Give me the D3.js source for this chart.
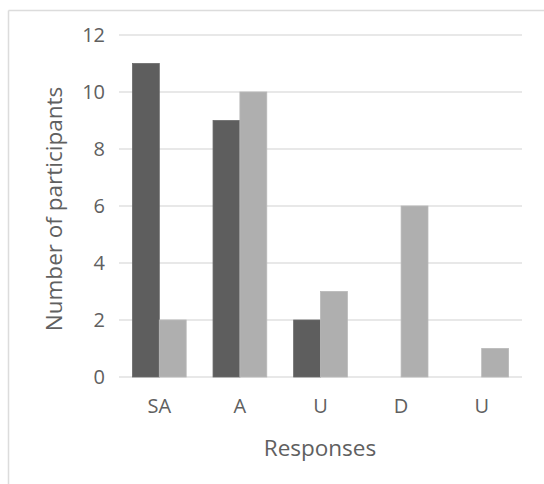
<!DOCTYPE html>
<html><head><meta charset="utf-8">
<script src="https://cdn.jsdelivr.net/npm/d3@7"></script>
<style>body{margin:0;background:#fff;}svg{display:block;}</style>
</head><body>
<script>
const categories = ["SA", "A", "U", "D", "U "];
const seriesDark = [11, 9, 2, 0, 0];
const seriesLight = [2, 10, 3, 6, 1];
const yTicks = [0, 2, 4, 6, 8, 10, 12];
const xTitle = "Responses";
const yTitle = "Number of participants";

const W = 544, H = 484;
const svg = d3.select("body").append("svg").attr("width", W).attr("height", H);
const font = "'Open Sans', sans-serif";
const txtColor = "#606060";

// frame
svg.append("line").attr("x1", 8.5).attr("x2", W).attr("y1", 10.5).attr("y2", 10.5).attr("stroke", "#dcdcdc").attr("stroke-width", 1.5);
svg.append("line").attr("x1", 8.5).attr("x2", 8.5).attr("y1", 10.5).attr("y2", H).attr("stroke", "#dcdcdc").attr("stroke-width", 1.5);

const plotL = 119, plotR = 522, plotT = 35, plotB = 377;
const y = d3.scaleLinear().domain([0, 12]).range([plotB, plotT]);
const x = d3.scaleBand().domain(d3.range(categories.length)).range([plotL, plotR]).paddingInner(1/3).paddingOuter(1/6);
const xs = d3.scaleBand().domain([0, 1]).range([0, x.bandwidth()]);

// gridlines
svg.append("g").selectAll("line").data(yTicks).join("line")
  .attr("x1", plotL).attr("x2", plotR)
  .attr("y1", d => y(d)).attr("y2", d => y(d))
  .attr("stroke", "#e0e0e0").attr("stroke-width", 1.5);

// y tick labels
svg.append("g").selectAll("text").data(yTicks).join("text")
  .attr("x", 105).attr("y", d => y(d)).attr("dy", "0.36em")
  .attr("text-anchor", "end").attr("font-family", font).attr("font-size", 20)
  .attr("fill", txtColor).text(d => d);

// bars
const groups = svg.append("g").selectAll("g").data(categories).join("g")
  .attr("transform", (d, i) => `translate(${x(i)},0)`);
groups.append("rect").attr("x", xs(0)).attr("width", xs.bandwidth())
  .attr("y", (d, i) => y(seriesDark[i])).attr("height", (d, i) => y(0) - y(seriesDark[i]))
  .attr("fill", "#5e5e5e").attr("stroke", "#6a6a6a").attr("stroke-width", 0.8);
groups.append("rect").attr("x", xs(1)).attr("width", xs.bandwidth())
  .attr("y", (d, i) => y(seriesLight[i])).attr("height", (d, i) => y(0) - y(seriesLight[i]))
  .attr("fill", "#afafaf").attr("stroke", "#b8b8b8").attr("stroke-width", 0.8);

// x labels
svg.append("g").selectAll("text").data(categories).join("text")
  .attr("x", (d, i) => x(i) + x.bandwidth() / 2).attr("y", 413)
  .attr("text-anchor", "middle").attr("font-family", font).attr("font-size", 20)
  .attr("fill", txtColor).text(d => d.trim());

// titles
svg.append("text").attr("x", 320).attr("y", 456).attr("text-anchor", "middle")
  .attr("font-family", font).attr("font-size", 22.5).attr("fill", txtColor).text(xTitle);
svg.append("text").attr("transform", "translate(62,209) rotate(-90)").attr("text-anchor", "middle")
  .attr("font-family", font).attr("font-size", 22.5).attr("fill", txtColor).text(yTitle);
</script>
</body></html>
